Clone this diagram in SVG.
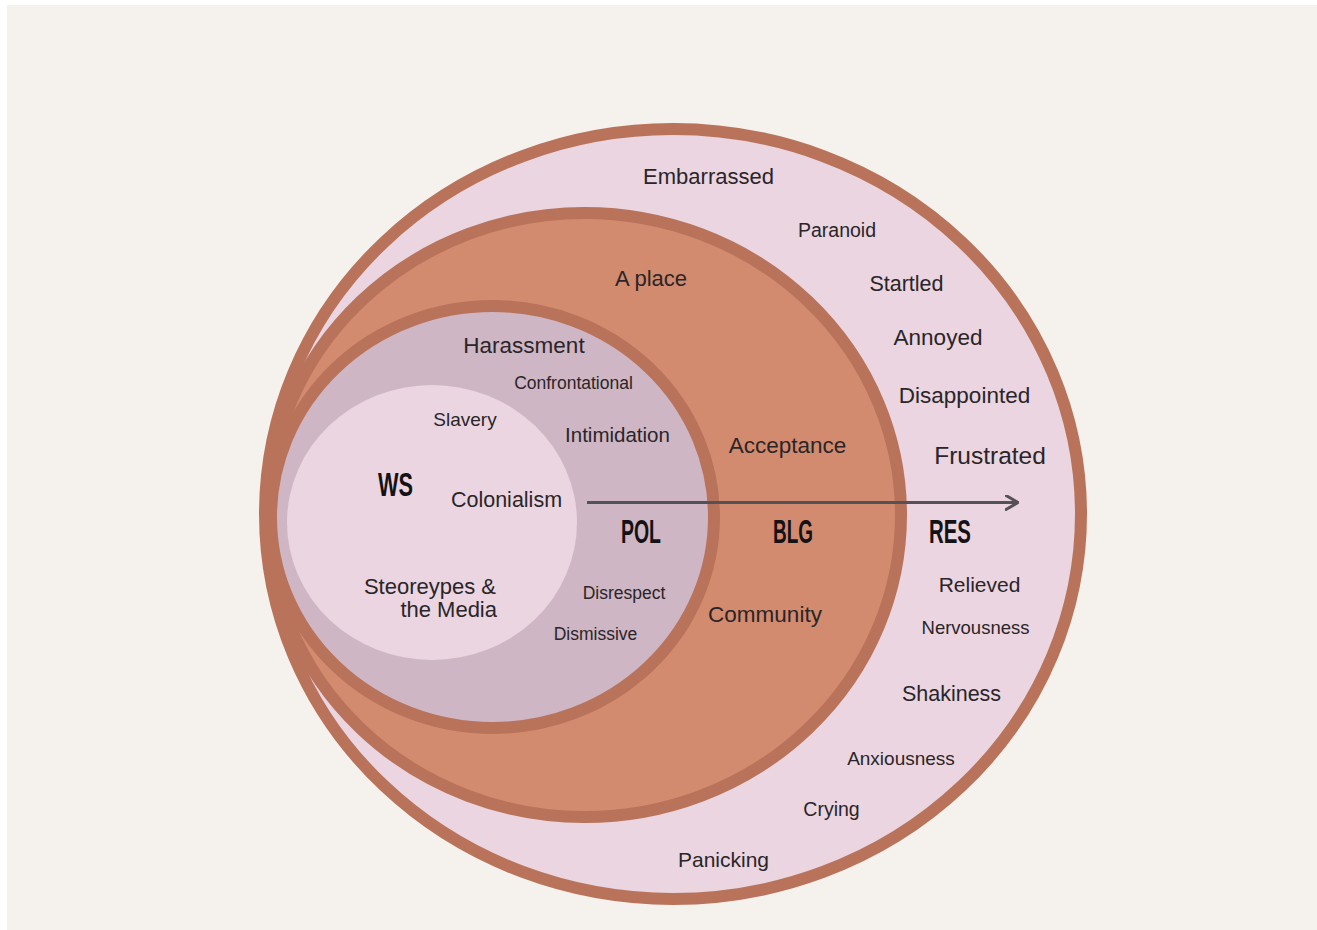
<svg xmlns="http://www.w3.org/2000/svg" width="1317" height="930" viewBox="0 0 1317 930">
  <defs>
    <marker id="chev" viewBox="0 0 14 16" refX="13" refY="8" markerWidth="14" markerHeight="16" markerUnits="userSpaceOnUse" orient="auto">
      <path d="M1,1 L13,8 L1,15" fill="none" stroke="#545157" stroke-width="3" stroke-linecap="round" stroke-linejoin="round"/>
    </marker>
  </defs>
  <style>
    .ring { stroke: #b9735a; stroke-width: 12; }
    .t { font-family: "Liberation Sans", Arial, sans-serif; fill: #2a2528; text-anchor: middle; }
    .h { font-family: "Liberation Sans", Arial, sans-serif; font-weight: bold; fill: #141214; text-anchor: middle; font-size: 33.5px; }
  </style>

  <!-- page -->
  <rect x="0" y="0" width="1317" height="930" fill="#ffffff"/>
  <rect x="7" y="5" width="1310" height="925" fill="#f5f1ec"/>

  <!-- RES: outer ring -->
  <g id="res">
    <ellipse class="ring" cx="673" cy="514" rx="408" ry="385" fill="#ead5e0"/>
    <text class="h" x="950" y="543" textLength="42" lengthAdjust="spacingAndGlyphs">RES</text>
    <text class="t" x="708.5" y="184" font-size="22">Embarrassed</text>
    <text class="t" x="837" y="237" font-size="19.5">Paranoid</text>
    <text class="t" x="906.5" y="290.5" font-size="21.5">Startled</text>
    <text class="t" x="938" y="345" font-size="22.5">Annoyed</text>
    <text class="t" x="964.5" y="402.5" font-size="22.5">Disappointed</text>
    <text class="t" x="990" y="464" font-size="24.5">Frustrated</text>
    <text class="t" x="979.5" y="591.5" font-size="21">Relieved</text>
    <text class="t" x="975.5" y="633.5" font-size="18.5">Nervousness</text>
    <text class="t" x="951.5" y="700.5" font-size="21.5">Shakiness</text>
    <text class="t" x="901" y="764.5" font-size="19">Anxiousness</text>
    <text class="t" x="831.5" y="815.5" font-size="19.5">Crying</text>
    <text class="t" x="723.5" y="867" font-size="21">Panicking</text>
  </g>

  <!-- BLG: middle ring -->
  <g id="blg">
    <ellipse class="ring" cx="584.5" cy="515" rx="316.5" ry="302" fill="#d38b6f"/>
    <text class="h" x="793" y="543" textLength="40" lengthAdjust="spacingAndGlyphs">BLG</text>
    <text class="t" x="651" y="285.5" font-size="22">A place</text>
    <text class="t" x="787.5" y="452.5" font-size="22.5">Acceptance</text>
    <text class="t" x="765" y="621.5" font-size="22.5">Community</text>
  </g>

  <!-- POL: inner ring -->
  <g id="pol">
    <ellipse class="ring" cx="492.5" cy="517" rx="221.5" ry="211" fill="#cfb6c4"/>
    <text class="h" x="641" y="543" textLength="40" lengthAdjust="spacingAndGlyphs">POL</text>
    <text class="t" x="524" y="352.5" font-size="22.5">Harassment</text>
    <text class="t" x="573.5" y="389" font-size="17.5">Confrontational</text>
    <text class="t" x="617.5" y="442" font-size="20.5">Intimidation</text>
    <text class="t" x="624" y="599" font-size="17.5">Disrespect</text>
    <text class="t" x="595.5" y="640" font-size="17.5">Dismissive</text>
  </g>

  <!-- WS: core -->
  <g id="ws">
    <ellipse cx="432" cy="522.5" rx="145" ry="137.5" fill="#ead5e0"/>
    <text class="h" x="395.5" y="496" textLength="35" lengthAdjust="spacingAndGlyphs">WS</text>
    <text class="t" x="465" y="425.5" font-size="19">Slavery</text>
    <text class="t" x="506.5" y="506.5" font-size="21.5">Colonialism</text>
    <text class="t" x="496" y="593.5" font-size="22" text-anchor="end" style="text-anchor:end">Steoreypes &amp;</text>
    <text class="t" x="497" y="616.5" font-size="22" style="text-anchor:end">the Media</text>
  </g>

  <!-- connectors -->
  <g id="connectors">
    <line x1="587" y1="502.5" x2="1018" y2="502.5" stroke="#545157" stroke-width="3" marker-end="url(#chev)"/>
  </g>
</svg>
